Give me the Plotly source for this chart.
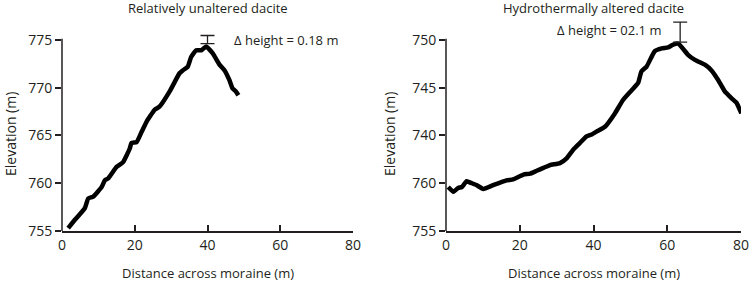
import plotly.graph_objects as go

# Left panel: relatively unaltered dacite
left_x = [1.7, 3.6, 6.3, 7.2, 8.6, 10.9, 11.8, 12.7, 15.0, 16.8, 18.6, 19.1, 20.5, 21.8,
          23.2, 25.5, 26.8, 29.6, 32.3, 33.2, 34.6, 35.5, 36.9, 38.3, 39.6,
          41.4, 43.3, 44.7, 46.0, 46.9, 47.8, 48.5]
left_y = [755.3, 756.2, 757.4, 758.4, 758.6, 759.6, 760.3, 760.5, 761.7, 762.2, 763.6, 764.2, 764.3, 765.3,
          766.4, 767.7, 768.0, 769.6, 771.5, 771.8, 772.2, 773.2, 773.9, 773.9, 774.3,
          773.6, 772.4, 771.8, 770.8, 769.9, 769.6, 769.2]

# Right panel: hydrothermally altered dacite (axis labels as printed in the original)
right_x = [0.6, 2.0, 3.3, 4.3, 5.6, 7.0, 8.3, 10.1, 12.8, 16.4, 18.2, 21.0, 22.8, 24.6, 26.4,
           28.2, 30.9, 32.7, 34.5, 36.3, 38.1, 39.5, 40.8, 43.1, 45.8, 48.0, 50.3, 52.1, 53.0,
           54.4, 56.6, 58.5, 60.2, 61.6, 63.0, 65.7, 67.5, 70.2, 72.0, 73.8, 75.6, 77.4, 78.8, 80.1]
right_y = [734.6, 734.1, 734.5, 734.6, 735.2, 735.0, 734.8, 734.4, 734.8, 735.3, 735.4, 735.9, 736.0, 736.3, 736.6,
           736.9, 737.1, 737.6, 738.5, 739.2, 739.9, 740.1, 740.4, 740.9, 742.3, 743.7, 744.7, 745.5, 746.7,
           747.2, 748.8, 749.1, 749.2, 749.5, 749.6, 748.4, 747.9, 747.4, 746.8, 745.8, 744.6, 743.9, 743.4, 742.3]

x_ticks = [0, 20, 40, 60, 80]
left_yticks = [755, 760, 765, 770, 775]
right_yticks = [730, 735, 740, 745, 750]
right_yticklabels = ["755", "760", "740", "745", "750"]

# Delta-height bars: x, centre, half-height
left_bar = (40.0, 775.02, 0.43)
right_bar = (63.5, 750.8, 1.05)
titles = ["Relatively unaltered dacite", "Hydrothermally altered dacite"]
delta_texts = ["Δ height = 0.18 m", "Δ height = 02.1 m"]
x_title = "Distance across moraine (m)"
y_title = "Elevation (m)"

FONT = "Open Sans"
INK = "#231f20"
W, H = 750, 282
PX_PER_M = 9.56
BOTTOM_PX = 231
left_range = [755, 775.8]
right_range = [730, 752.2]


def ydomain(rng):
    top_px = BOTTOM_PX - (rng[1] - rng[0]) * PX_PER_M
    return [1 - BOTTOM_PX / H, 1 - top_px / H]


fig = go.Figure()
for xs, ys, xa, ya in [(left_x, left_y, "x", "y"), (right_x, right_y, "x2", "y2")]:
    fig.add_trace(go.Scatter(x=xs, y=ys, mode="lines",
                             line=dict(color="black", width=4.5, shape="spline", smoothing=0.4),
                             xaxis=xa, yaxis=ya, showlegend=False, hoverinfo="skip"))
for bar, xa, ya in [(left_bar, "x", "y"), (right_bar, "x2", "y2")]:
    fig.add_trace(go.Scatter(x=[bar[0]], y=[bar[1]], mode="markers",
                             marker=dict(size=1, color="rgba(0,0,0,0)"),
                             error_y=dict(type="constant", value=bar[2], color=INK,
                                          thickness=1.3, width=7),
                             xaxis=xa, yaxis=ya, showlegend=False))

tickfont = dict(family=FONT, size=14, color=INK)
xaxis_common = dict(showline=True, linecolor=INK, linewidth=1.5, ticks="inside", ticklen=6,
                    tickcolor=INK, tickwidth=1.5, showgrid=False, zeroline=False,
                    tickfont=tickfont, range=[0, 80], tickvals=x_ticks, automargin=False)
yaxis_common = dict(showline=False, ticks="outside", ticklen=6,
                    tickcolor=INK, tickwidth=1.5, showgrid=False, zeroline=False,
                    tickfont=tickfont, automargin=False)
fig.update_layout(
    width=W, height=H, margin=dict(l=0, r=0, t=0, b=0),
    paper_bgcolor="white", plot_bgcolor="white",
    xaxis=dict(domain=[62 / W, 353 / W], anchor="y", **xaxis_common),
    yaxis=dict(domain=ydomain(left_range), range=left_range, tickvals=left_yticks,
               anchor="x", **yaxis_common),
    xaxis2=dict(domain=[446 / W, 741 / W], anchor="y2", **xaxis_common),
    yaxis2=dict(domain=ydomain(right_range), range=right_range, tickvals=right_yticks,
                ticktext=right_yticklabels, anchor="x2", **yaxis_common),
)

# vertical axis lines stop at the top tick
fig.add_shape(type="line", xref="x domain", yref="y", x0=0, x1=0, y0=755, y1=775.1,
              line=dict(color=INK, width=1.5))
fig.add_shape(type="line", xref="x2 domain", yref="y2", x0=0, x1=0, y0=730, y1=750.1,
              line=dict(color=INK, width=1.5))

tfont = dict(family=FONT, size=13, color=INK)
yfont = dict(family=FONT, size=14, color=INK)
for i, xd in enumerate(["x domain", "x2 domain"]):
    fig.add_annotation(text=titles[i], xref=xd, yref="paper", x=0.5, y=1 - 8 / H,
                       showarrow=False, font=tfont, yanchor="middle")
    fig.add_annotation(text=x_title, xref=xd, yref="paper", x=0.5, y=1 - 273 / H,
                       showarrow=False, font=tfont, yanchor="middle")
fig.add_annotation(text=y_title, xref="paper", yref="paper", x=10 / W, y=1 - 134 / H,
                   textangle=-90, showarrow=False, font=yfont, xanchor="center", yanchor="middle")
fig.add_annotation(text=y_title, xref="paper", yref="paper", x=389 / W, y=1 - 134 / H,
                   textangle=-90, showarrow=False, font=yfont, xanchor="center", yanchor="middle")
fig.add_annotation(text=delta_texts[0], xref="x", yref="y", x=46.8, y=775.0, xanchor="left",
                   yanchor="middle", showarrow=False, font=tfont)
fig.add_annotation(text=delta_texts[1], xref="x2", yref="y2", x=58.8, y=751.05, xanchor="right",
                   yanchor="middle", showarrow=False, font=tfont)

fig.write_html("out.html",
               config={"displayModeBar": False},
               post_script="document.documentElement.style.overflow='hidden';"
                           "document.body.style.margin='0';document.body.style.padding='0';")
